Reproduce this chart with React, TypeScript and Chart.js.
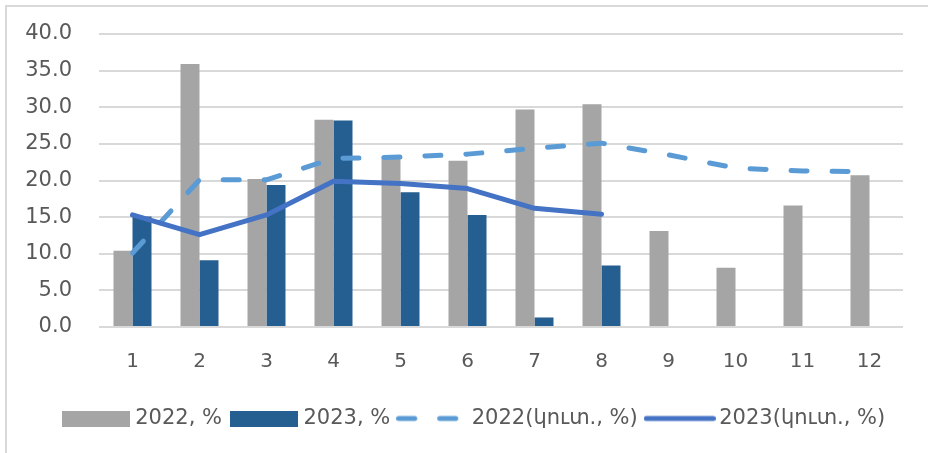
import React, { useEffect, useRef } from 'react';
import { Chart, registerables } from 'chart.js';

Chart.register(...registerables);

const categories = ['1', '2', '3', '4', '5', '6', '7', '8', '9', '10', '11', '12'];
const values2022 = [10.4, 35.9, 20.2, 28.3, 23.2, 22.7, 29.7, 30.4, 13.1, 8.1, 16.6, 20.7];
const values2023 = [15.1, 9.1, 19.4, 28.2, 18.4, 15.3, 1.3, 8.4, null, null, null, null];
const cumulative2022 = [10.1, 20.1, 20.1, 23.0, 23.2, 23.6, 24.4, 25.1, 23.5, 21.7, 21.3, 21.2];
const cumulative2023 = [15.3, 12.6, 15.3, 19.9, 19.6, 18.9, 16.2, 15.4, null, null, null, null];
const seriesLabels = ['2022, %', '2023, %', '2022(կուտ., %)', '2023(կուտ., %)'];
const yMin = 0;
const yMax = 40;
const yStep = 5;

const FONT = "'DejaVu Sans', sans-serif";
const TEXT = '#595959';

function makeMarker(kind: 'rect' | 'line', color: string, dash: number[]) {
  const c = document.createElement('canvas');
  const w = kind === 'rect' ? 68 : 72;
  c.width = w;
  c.height = 16;
  const g = c.getContext('2d')!;
  if (kind === 'rect') {
    g.fillStyle = color;
    g.fillRect(0, 0, 68, 16);
  } else {
    g.strokeStyle = color;
    g.lineWidth = 5;
    g.lineCap = 'round';
    g.setLineDash(dash);
    g.beginPath();
    g.moveTo(2.5, 8);
    g.lineTo(w - 2.5, 8);
    g.stroke();
  }
  return c;
}

export default function App() {
  const ref = useRef<HTMLCanvasElement | null>(null);

  useEffect(() => {
    document.body.style.margin = '0';
    const canvas = ref.current;
    if (!canvas) return;
    const chart = new Chart(canvas, {
      type: 'bar',
      data: {
        labels: categories,
        datasets: [
          {
            type: 'bar',
            label: seriesLabels[0],
            data: values2022,
            backgroundColor: '#A5A5A5',
            borderWidth: 0,
            order: 2,
            categoryPercentage: 0.567,
            barPercentage: 1.0,
          } as any,
          {
            type: 'bar',
            label: seriesLabels[1],
            data: values2023,
            backgroundColor: '#255E91',
            borderWidth: 0,
            order: 2,
            categoryPercentage: 0.567,
            barPercentage: 1.0,
          } as any,
          {
            type: 'line',
            label: seriesLabels[2],
            data: cumulative2022,
            borderColor: '#5B9BD5',
            backgroundColor: '#5B9BD5',
            borderWidth: 5,
            borderDash: [16, 25],
            borderCapStyle: 'round',
            borderJoinStyle: 'round',
            pointRadius: 0,
            tension: 0,
            fill: false,
            order: 1,
          } as any,
          {
            type: 'line',
            label: seriesLabels[3],
            data: cumulative2023,
            borderColor: '#4472C4',
            backgroundColor: '#4472C4',
            borderWidth: 5,
            borderCapStyle: 'round',
            borderJoinStyle: 'round',
            pointRadius: 0,
            tension: 0,
            fill: false,
            spanGaps: false,
            order: 0,
          } as any,
        ],
      },
      options: {
        responsive: false,
        animation: false,
        devicePixelRatio: 1,
        layout: { padding: { top: 34, right: -16, left: 8, bottom: 14 } },
        plugins: {
          tooltip: { enabled: false },
          legend: {
            position: 'bottom',
            labels: {
              usePointStyle: true,
              pointStyleWidth: 58,
              boxWidth: 58,
              boxHeight: 16,
              padding: 13,
              color: TEXT,
              font: { family: FONT, size: 21 },
              sort: (a: any, b: any) => a.datasetIndex - b.datasetIndex,
              generateLabels: (c: any) => {
                const items = (Chart.defaults.plugins.legend.labels as any).generateLabels(c);
                return items.map((it: any) => {
                  const ds: any = c.data.datasets[it.datasetIndex];
                  const isLine = ds.type === 'line';
                  return {
                    ...it,
                    pointStyle: makeMarker(isLine ? 'line' : 'rect', isLine ? ds.borderColor : ds.backgroundColor, ds.borderDash || []),
                    lineWidth: 0,
                  };
                });
              },
            },
          },
        },
        scales: {
          x: {
            offset: true,
            grid: { display: false, drawTicks: false },
            border: { display: false },
            ticks: { color: TEXT, font: { family: FONT, size: 20 }, padding: 23 },
            afterFit: (s: any) => {
              s.height = s.height - 2;
            },
          },
          y: {
            min: yMin,
            max: yMax,
            afterFit: (s: any) => {
              s.width = 91;
              s.paddingTop = 0;
              s.paddingBottom = 0;
            },
            grid: { color: '#D9D9D9', lineWidth: 2, drawTicks: false },
            border: { display: false },
            ticks: {
              stepSize: yStep,
              color: TEXT,
              padding: 27,
              font: { family: FONT, size: 21 },
              callback: (v: any) => Number(v).toFixed(1),
            },
          },
          yRight: {
            position: 'right',
            min: yMin,
            max: yMax,
            grid: { display: false, drawTicks: false },
            border: { display: false },
            ticks: { display: false },
            afterFit: (s: any) => {
              s.width = 41;
              s.paddingTop = 0;
              s.paddingBottom = 0;
            },
          },
        },
      },
    });
    return () => chart.destroy();
  }, []);

  return (
    <div style={{ position: 'absolute', left: 0, top: 0, width: 928, height: 453, overflow: 'hidden', background: '#fff' }}>
      <div
        style={{
          position: 'absolute',
          left: 5,
          top: 5,
          width: 940,
          height: 470,
          borderLeft: '2px solid #D9D9D9',
          borderTop: '2px solid #D9D9D9',
        }}
      />
      <canvas ref={ref} width={928} height={453} style={{ position: 'absolute', left: 0, top: 0 }} />
    </div>
  );
}
